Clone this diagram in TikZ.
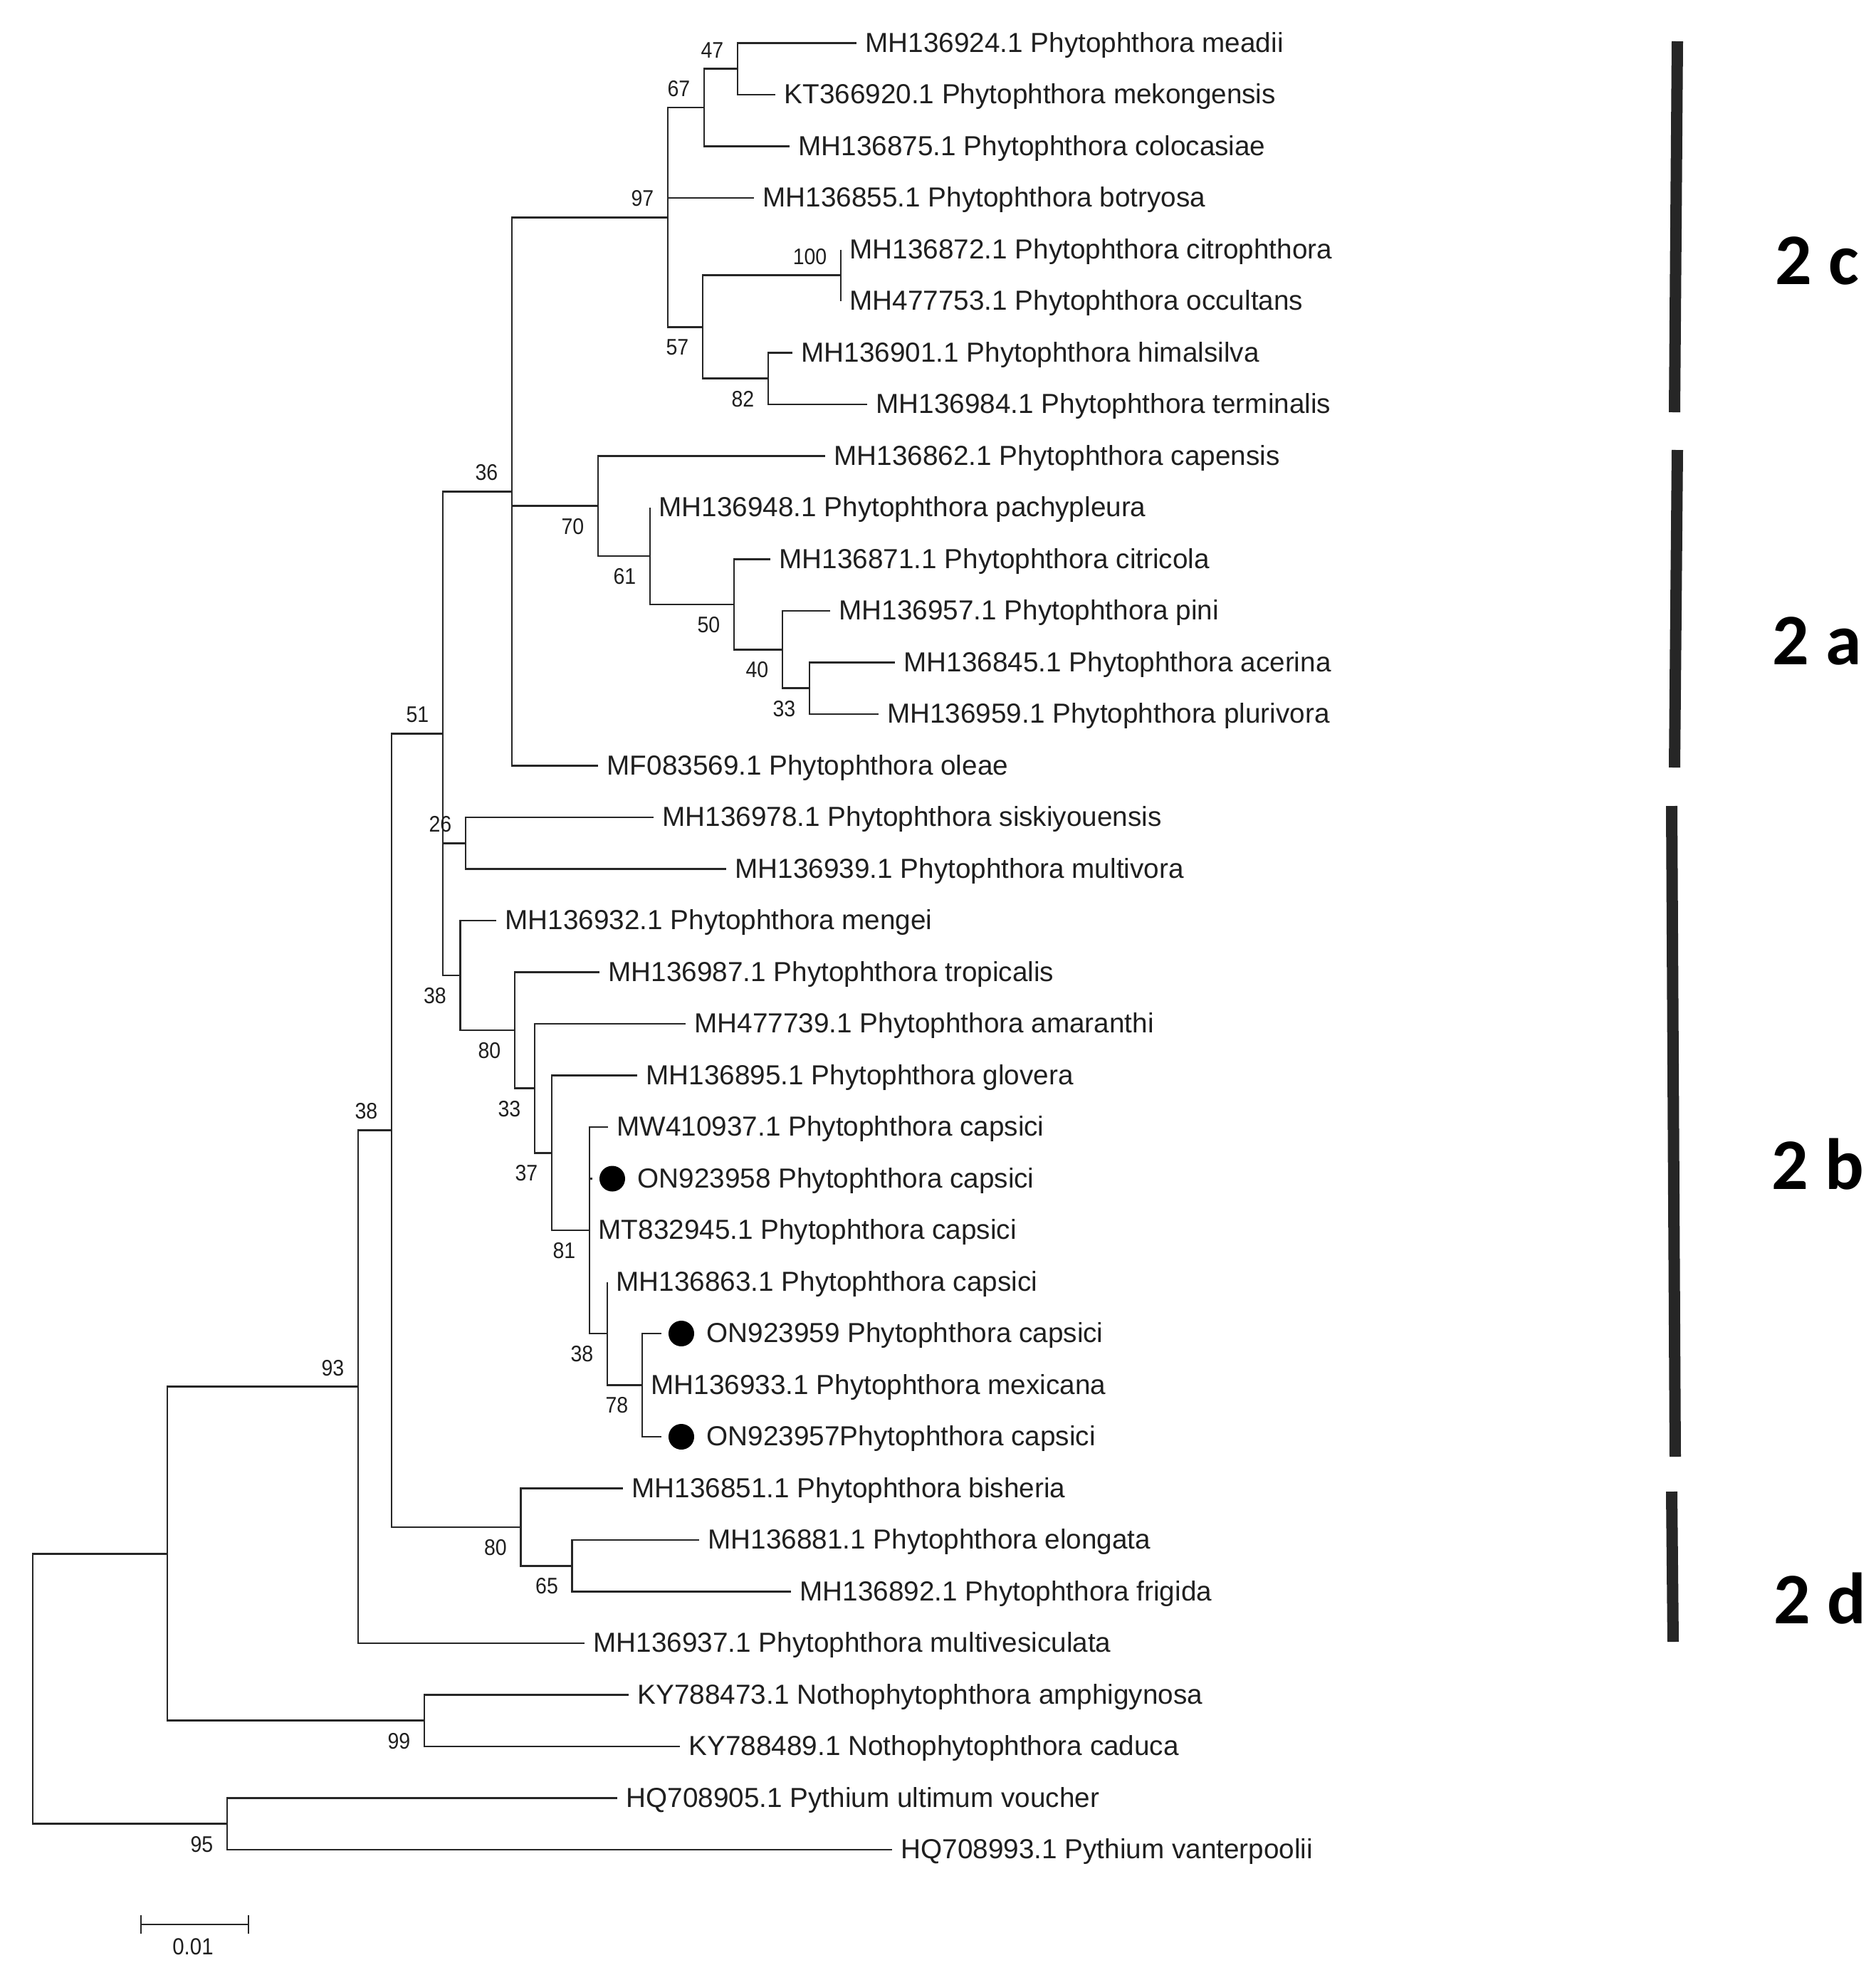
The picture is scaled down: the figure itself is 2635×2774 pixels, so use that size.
\documentclass[tikz,border=0pt]{standalone}
\usepackage{fontspec}
\setmainfont{Liberation Sans}
\newfontfamily\bootfont[FakeStretch=0.9]{Liberation Sans}
\newfontfamily\cladefont{Carlito}
\usetikzlibrary{positioning}
\begin{document}
\begin{tikzpicture}[x=0.01cm, y=-0.01cm,
    br/.style={line width=0.78pt, color=black!85},
    leaf/.style={anchor=west, inner xsep=0.12cm, inner ysep=0pt, text height=0.716em, text depth=0pt, font=\fontsize{11}{11}\selectfont, text=black!88},
    bsa/.style={anchor=east, xshift=-0.19cm, yshift=0.265cm, inner sep=0pt, font=\bootfont\fontsize{9}{9}\selectfont, text=black!88},
    bsb/.style={anchor=east, xshift=-0.19cm, yshift=-0.285cm, inner sep=0pt, font=\bootfont\fontsize{9}{9}\selectfont, text=black!88},
    tipdot/.style={circle, fill=black, minimum size=0.36cm, inner sep=0pt, outer sep=0.1cm},
    clade/.style={line width=0.16cm, color=black!85},
    cl/.style={font=\cladefont\bfseries\fontsize{29}{29}\selectfont, text=black}]
  \useasboundingbox (0, 0) rectangle (2635, 2774);
  \coordinate (root) at (46, 2372);
  \coordinate (nA) at (235, 2182.3);
  \coordinate (n95) at (319, 2561.75);
  \coordinate (n93) at (503, 1947.8);
  \coordinate (n99) at (596, 2416.75);
  \coordinate (n38a) at (550, 1587.55);
  \coordinate (n80b) at (731.5, 2144.9);
  \coordinate (n65) at (803.6, 2199.25);
  \coordinate (n51) at (622, 1030.2);
  \coordinate (n26) at (654, 1184.25);
  \coordinate (n38b) at (646.5, 1370);
  \coordinate (n80a) at (723, 1447.05);
  \coordinate (n33b) at (751, 1528.6);
  \coordinate (n37) at (775, 1619.25);
  \coordinate (n81) at (828, 1728);
  \coordinate (n38c) at (853, 1873);
  \coordinate (n78) at (902, 1945.5);
  \coordinate (n36) at (719, 690.4);
  \coordinate (n97) at (938, 305.2);
  \coordinate (n67) at (989, 151.1);
  \coordinate (n47) at (1036, 96.75);
  \coordinate (n57) at (987, 459.25);
  \coordinate (n100) at (1181, 386.75);
  \coordinate (n82) at (1079, 531.75);
  \coordinate (n70) at (840, 710.7);
  \coordinate (n61) at (913, 781);
  \coordinate (n50) at (1031, 848.9);
  \coordinate (n40) at (1099, 912.4);
  \coordinate (n33) at (1137, 966.75);

  \node[leaf] (l1) at (1203, 60.5) {MH136924.1 Phytophthora meadii};
  \node[leaf] (l2) at (1089, 133) {KT366920.1 Phytophthora mekongensis};
  \node[leaf] (l3) at (1109, 205.5) {MH136875.1 Phytophthora colocasiae};
  \node[leaf] (l4) at (1059, 278) {MH136855.1 Phytophthora botryosa};
  \node[leaf] (l5) at (1181, 350.5) {MH136872.1 Phytophthora citrophthora};
  \node[leaf] (l6) at (1181, 423) {MH477753.1 Phytophthora occultans};
  \node[leaf] (l7) at (1113, 495.5) {MH136901.1 Phytophthora himalsilva};
  \node[leaf] (l8) at (1218, 568) {MH136984.1 Phytophthora terminalis};
  \node[leaf] (l9) at (1159, 640.5) {MH136862.1 Phytophthora capensis};
  \node[leaf] (l10) at (913, 713) {MH136948.1 Phytophthora pachypleura};
  \node[leaf] (l11) at (1082, 785.5) {MH136871.1 Phytophthora citricola};
  \node[leaf] (l12) at (1166, 858) {MH136957.1 Phytophthora pini};
  \node[leaf] (l13) at (1257, 930.5) {MH136845.1 Phytophthora acerina};
  \node[leaf] (l14) at (1233.5, 1003) {MH136959.1 Phytophthora plurivora};
  \node[leaf] (l15) at (840, 1075.5) {MF083569.1 Phytophthora oleae};
  \node[leaf] (l16) at (918, 1148) {MH136978.1 Phytophthora siskiyouensis};
  \node[leaf] (l17) at (1020, 1220.5) {MH136939.1 Phytophthora multivora};
  \node[leaf] (l18) at (697, 1293) {MH136932.1 Phytophthora mengei};
  \node[leaf] (l19) at (842, 1365.5) {MH136987.1 Phytophthora tropicalis};
  \node[leaf] (l20) at (963, 1438) {MH477739.1 Phytophthora amaranthi};
  \node[leaf] (l21) at (895, 1510.5) {MH136895.1 Phytophthora glovera};
  \node[leaf] (l22) at (854, 1583) {MW410937.1 Phytophthora capsici};
  \node[tipdot] (d23) at (860, 1655.5) {};
  \node[leaf, right=-0.05cm of d23] (l23) {ON923958 Phytophthora capsici};
  \node[leaf] (l24) at (828, 1728) {MT832945.1 Phytophthora capsici};
  \node[leaf] (l25) at (853, 1800.5) {MH136863.1 Phytophthora capsici};
  \node[tipdot] (d26) at (957, 1873) {};
  \node[leaf, right=-0.05cm of d26] (l26) {ON923959 Phytophthora capsici};
  \node[leaf] (l27) at (902, 1945.5) {MH136933.1 Phytophthora mexicana};
  \node[tipdot] (d28) at (957, 2018) {};
  \node[leaf, right=-0.05cm of d28] (l28) {ON923957Phytophthora capsici};
  \node[leaf] (l29) at (875, 2090.5) {MH136851.1 Phytophthora bisheria};
  \node[leaf] (l30) at (982, 2163) {MH136881.1 Phytophthora elongata};
  \node[leaf] (l31) at (1111, 2235.5) {MH136892.1 Phytophthora frigida};
  \node[leaf] (l32) at (821, 2308) {MH136937.1 Phytophthora multivesiculata};
  \node[leaf] (l33) at (883, 2380.5) {KY788473.1 Nothophytophthora amphigynosa};
  \node[leaf] (l34) at (955, 2453) {KY788489.1 Nothophytophthora caduca};
  \node[leaf] (l35) at (867, 2525.5) {HQ708905.1 Pythium ultimum voucher};
  \node[leaf] (l36) at (1253, 2598) {HQ708993.1 Pythium vanterpoolii};

  \draw[br] (root) |- (nA) (root) |- (n95);
  \draw[br] (n95) |- (l35.west) (n95) |- (l36.west);
  \draw[br] (nA) |- (n93) (nA) |- (n99);
  \draw[br] (n99) |- (l33.west) (n99) |- (l34.west);
  \draw[br] (n93) |- (n38a) (n93) |- (l32.west);
  \draw[br] (n38a) |- (n51) (n38a) |- (n80b);
  \draw[br] (n80b) |- (l29.west) (n80b) |- (n65);
  \draw[br] (n65) |- (l30.west) (n65) |- (l31.west);
  \draw[br] (n51) |- (n36) (n51) |- (n26) (n51) |- (n38b);
  \draw[br] (n26) |- (l16.west) (n26) |- (l17.west);
  \draw[br] (n38b) |- (l18.west) (n38b) |- (n80a);
  \draw[br] (n80a) |- (l19.west) (n80a) |- (n33b);
  \draw[br] (n33b) |- (l20.west) (n33b) |- (n37);
  \draw[br] (n37) |- (l21.west) (n37) |- (n81);
  \draw[br] (n81) |- (l22.west) (n81) |- (d23) (n81) |- (l24.west) (n81) |- (n38c);
  \draw[br] (n38c) |- (l25.west) (n38c) |- (n78);
  \draw[br] (n78) |- (d26) (n78) |- (l27.west) (n78) |- (d28);
  \draw[br] (n36) |- (n97) (n36) |- (n70) (n36) |- (l15.west);
  \draw[br] (n97) |- (n67) (n97) |- (l4.west) (n97) |- (n57);
  \draw[br] (n67) |- (n47) (n67) |- (l3.west);
  \draw[br] (n47) |- (l1.west) (n47) |- (l2.west);
  \draw[br] (n57) |- (n100) (n57) |- (n82);
  \draw[br] (n100) |- (l5.west) (n100) |- (l6.west);
  \draw[br] (n82) |- (l7.west) (n82) |- (l8.west);
  \draw[br] (n70) |- (l9.west) (n70) |- (n61);
  \draw[br] (n61) |- (l10.west) (n61) |- (n50);
  \draw[br] (n50) |- (l11.west) (n50) |- (n40);
  \draw[br] (n40) |- (l12.west) (n40) |- (n33);
  \draw[br] (n33) |- (l13.west) (n33) |- (l14.west);

  \node[bsa] (s47) at (n47) {47};
  \node[bsa] (s67) at (n67) {67};
  \node[bsa] (s97) at (n97) {97};
  \node[bsa] (s100) at (n100) {100};
  \node[bsb] (s57) at (n57) {57};
  \node[bsb] (s82) at (n82) {82};
  \node[bsa] (s36) at (n36) {36};
  \node[bsb] (s70) at (n70) {70};
  \node[bsb] (s61) at (n61) {61};
  \node[bsb] (s50) at (n50) {50};
  \node[bsb] (s40) at (n40) {40};
  \node[bsb] (s33) at (n33) {33};
  \node[bsa] (s51) at (n51) {51};
  \node[bsa] (s26) at (n26) {26};
  \node[bsb] (s38b) at (n38b) {38};
  \node[bsb] (s80a) at (n80a) {80};
  \node[bsb] (s33b) at (n33b) {33};
  \node[bsb] (s37) at (n37) {37};
  \node[bsb] (s81) at (n81) {81};
  \node[bsb] (s38c) at (n38c) {38};
  \node[bsb] (s78) at (n78) {78};
  \node[bsa] (s38a) at (n38a) {38};
  \node[bsa] (s93) at (n93) {93};
  \node[bsb] (s80b) at (n80b) {80};
  \node[bsb] (s65) at (n65) {65};
  \node[bsb] (s99) at (n99) {99};
  \node[bsb] (s95) at (n95) {95};

  \coordinate (sb1) at (198, 2703);
  \coordinate (sb2) at (349, 2703);
  \draw[br] (sb1) -- (sb2);
  \draw[br] ([yshift=0.13cm]sb1) -- ([yshift=-0.13cm]sb1);
  \draw[br] ([yshift=0.13cm]sb2) -- ([yshift=-0.13cm]sb2);
  \node[inner sep=0pt, font=\bootfont\fontsize{9.3}{9.3}\selectfont, text=black!88] (sbl) at (271, 2734.5) {0.01};

  \draw[clade] (2356, 58) -- (2352, 579);
  \draw[clade] (2356, 632) -- (2352, 1078);
  \draw[clade] (2348, 1132) -- (2353, 2046);
  \draw[clade] (2348, 2095) -- (2350, 2306);
  \node[cl] (c2c) at (2552, 366) {2 c};
  \node[cl] (c2a) at (2552, 900) {2 a};
  \node[cl] (c2b) at (2553, 1635) {2 b};
  \node[cl] (c2d) at (2556, 2245) {2 d};
\end{tikzpicture}
\end{document}
